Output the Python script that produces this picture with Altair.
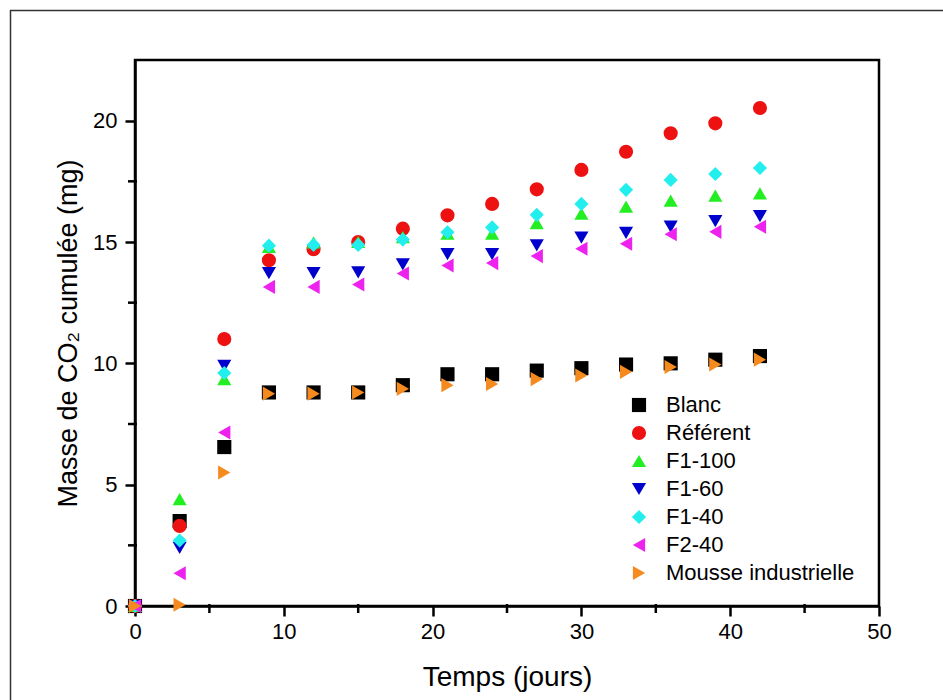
import altair as alt
import pandas as pd

days = [0, 3, 6, 9, 12, 15, 18, 21, 24, 27, 30, 33, 36, 39, 42]

series_names = ["Blanc", "Référent", "F1-100", "F1-60", "F1-40", "F2-40", "Mousse industrielle"]

blanc = [0, 3.5, 6.55, 8.8, 8.8, 8.8, 9.1, 9.55, 9.55, 9.7, 9.8, 9.95, 10.0, 10.15, 10.3]
referent = [0, 3.3, 11.0, 14.25, 14.7, 15.0, 15.55, 16.1, 16.57, 17.17, 17.97, 18.72, 19.48, 19.89, 20.52]
f1_100 = [0, 4.4, 9.35, 14.8, 14.98, 15.0, 15.2, 15.35, 15.35, 15.78, 16.17, 16.46, 16.7, 16.91, 17.0]
f1_60 = [0, 2.4, 9.9, 13.72, 13.72, 13.75, 14.08, 14.5, 14.5, 14.86, 15.18, 15.38, 15.63, 15.86, 16.07]
f1_40 = [0, 2.7, 9.6, 14.85, 14.88, 14.88, 15.1, 15.4, 15.6, 16.12, 16.57, 17.15, 17.56, 17.8, 18.05]
f2_40 = [0, 1.35, 7.15, 13.15, 13.15, 13.25, 13.7, 14.03, 14.13, 14.42, 14.72, 14.93, 15.32, 15.42, 15.63]
mousse = [0, 0.05, 5.5, 8.75, 8.75, 8.8, 8.95, 9.1, 9.15, 9.35, 9.5, 9.65, 9.85, 9.95, 10.15]

all_values = [blanc, referent, f1_100, f1_60, f1_40, f2_40, mousse]

x_major_ticks = [0, 10, 20, 30, 40, 50]
x_minor_ticks = [5, 15, 25, 35, 45]
y_major_ticks = [0, 5, 10, 15, 20]
y_minor_ticks = [2.5, 7.5, 12.5, 17.5]

colors = ["#000000", "#ee1111", "#22ee22", "#0000cc", "#22eeee", "#ee22ee", "#f58a1f"]
shapes = ["square", "circle", "triangle-up", "triangle-down", "diamond", "triangle-left", "triangle-right"]

rows = []
for i, (name, vals) in enumerate(zip(series_names, all_values)):
    for d, v in zip(days, vals):
        rows.append({"Temps": d, "Masse": v, "Serie": name, "ordre": i})
df = pd.DataFrame(rows)

font = "Liberation Sans"
x_scale = alt.Scale(domain=[0, 50], nice=False)
y_scale = alt.Scale(domain=[0, 22.5], nice=False)

points = alt.Chart(df).mark_point(filled=True, size=200, opacity=1).encode(
    x=alt.X("Temps:Q",
            scale=x_scale,
            axis=alt.Axis(
                values=x_major_ticks,
                tickSize=10,
                title="Temps (jours)",
                grid=False,
                domainColor="black", domainWidth=2.5,
                tickColor="black", tickWidth=2.5,
                labelFont=font, labelFontSize=22, labelColor="black", labelPadding=5,
                labelFlush=False,
                titleFont=font, titleFontSize=28, titleFontWeight="normal", titleColor="black",
                titlePadding=21,
            )),
    y=alt.Y("Masse:Q",
            scale=y_scale,
            axis=alt.Axis(
                values=y_major_ticks,
                tickSize=10,
                title="Masse de CO₂ cumulée (mg)",
                grid=False,
                domainColor="black", domainWidth=2.5,
                tickColor="black", tickWidth=2.5,
                labelFont=font, labelFontSize=22, labelColor="black", labelPadding=8,
                labelFlush=False,
                titleFont=font, titleFontSize=27, titleFontWeight="normal", titleColor="black",
                titlePadding=10,
            )),
    color=alt.Color("Serie:N",
                    scale=alt.Scale(domain=series_names, range=colors),
                    legend=alt.Legend(
                        title=None, orient="none", legendX=493, legendY=334,
                        labelFont=font, labelFontSize=22, labelColor="black",
                        symbolSize=200, rowPadding=6, labelOffset=16,
                        symbolStrokeWidth=0, labelLimit=0,
                    )),
    shape=alt.Shape("Serie:N", scale=alt.Scale(domain=series_names, range=shapes)),
    order=alt.Order("ordre:Q"),
)

xminor_df = pd.DataFrame({"t": x_minor_ticks})
yminor_df = pd.DataFrame({"m": y_minor_ticks})

x_minor = alt.Chart(xminor_df).mark_rule(color="black", strokeWidth=2.5).encode(
    x=alt.X("t:Q", scale=x_scale),
    y=alt.value(544), y2=alt.value(553),
)
y_minor = alt.Chart(yminor_df).mark_rule(color="black", strokeWidth=2.5).encode(
    y=alt.Y("m:Q", scale=y_scale),
    x=alt.value(2), x2=alt.value(-7),
)

frame_df = pd.DataFrame({"a": [0]})
left_line = alt.Chart(frame_df).mark_rule(color="#333333", strokeWidth=1.5).encode(
    x=alt.value(-124.5), y=alt.value(-50), y2=alt.value(650)
)
top_line = alt.Chart(frame_df).mark_rule(color="#333333", strokeWidth=1.5).encode(
    x=alt.value(-125), x2=alt.value(820), y=alt.value(-49.5)
)

chart = alt.layer(points, x_minor, y_minor, left_line, top_line).properties(
    width=744, height=546,
    background="white",
    autosize=alt.AutoSizeParams(type="none"),
    padding={"left": 135, "top": 60, "right": 64, "bottom": 94},
).configure_view(stroke="black", strokeWidth=2.5)

chart.save("out.html", embed_options={"renderer": "svg", "actions": False})
